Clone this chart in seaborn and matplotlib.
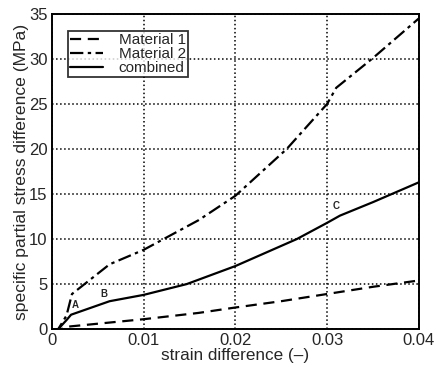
import matplotlib
matplotlib.use("Agg")
import matplotlib.pyplot as plt
import seaborn as sns
import pandas as pd

# data
m1_x = [0, 0.001, 0.002, 0.006, 0.01, 0.016, 0.02, 0.025, 0.03, 0.035, 0.04]
m1_y = [0, 0, 0.3, 0.7, 1.1, 1.8, 2.4, 3.1, 3.9, 4.7, 5.4]
m2_x = [0, 0.0007, 0.0016, 0.0022, 0.0063, 0.01, 0.016, 0.02, 0.0256, 0.03, 0.031, 0.035, 0.04]
m2_y = [0, 0, 1.5, 3.9, 7.2, 8.8, 12.1, 14.8, 20, 25, 26.8, 30.1, 34.5]
c_x = [0, 0.0007, 0.0016, 0.0021, 0.0063, 0.01, 0.0147, 0.02, 0.0267, 0.03, 0.0314, 0.035, 0.04]
c_y = [0, 0, 1.0, 1.6, 3.1, 3.8, 5.0, 7.0, 10, 11.8, 12.6, 14.1, 16.3]
series_names = ["Material 1", "Material 2", "combined"]
x_ticks = [0, 0.01, 0.02, 0.03, 0.04]
x_tick_labels = ["0", "0.01", "0.02", "0.03", "0.04"]
y_ticks = [0, 5, 10, 15, 20, 25, 30, 35]
annot_text = ["A", "B", "C"]
annot_x = [0.0026, 0.0057, 0.031]
annot_y = [2.7, 3.9, 13.7]

sns.set_style("white")
plt.rcParams['font.family'] = ['Liberation Sans', 'DejaVu Sans']

df = pd.concat([
    pd.DataFrame({"x": m1_x, "y": m1_y, "s": series_names[0]}),
    pd.DataFrame({"x": m2_x, "y": m2_y, "s": series_names[1]}),
    pd.DataFrame({"x": c_x, "y": c_y, "s": series_names[2]}),
])

fig = plt.figure(figsize=(4.39, 3.77), dpi=100)
ax = fig.add_axes([0.118, 0.127, 0.836, 0.836])

styles = {series_names[0]: (0, (5, 3)),
          series_names[1]: (0, (6, 2, 1.5, 2)),
          series_names[2]: "-"}
for name in series_names:
    sub = df[df["s"] == name]
    sns.lineplot(data=sub, x="x", y="y", ax=ax, color="black", lw=1.6,
                 linestyle=styles[name], label=name, estimator=None, sort=False)

for t, xx, yy in zip(annot_text, annot_x, annot_y):
    ax.text(xx, yy, t, fontsize=7, fontweight="bold", ha="center", va="center")

ax.set_xlim(0, 0.04)
ax.set_ylim(0, 35)
ax.set_xticks(x_ticks)
ax.set_xticklabels(x_tick_labels)
ax.set_yticks(y_ticks)
ax.tick_params(labelsize=12, length=0, pad=3)
ax.grid(True, linestyle=":", color="black", lw=1.1)
for sp in ax.spines.values():
    sp.set_color("black")
    sp.set_linewidth(1.4)
ax.set_xlabel("strain difference (–)", fontsize=12.3, labelpad=0)
ax.set_ylabel("specific partial stress difference (MPa)", fontsize=12.6, labelpad=0)

leg = ax.legend(loc="upper left", bbox_to_anchor=(0.043, 0.947), frameon=True,
                fancybox=False, edgecolor="black", fontsize=11,
                handlelength=2.2, borderpad=0.15, labelspacing=0.0, handletextpad=1.0,
                borderaxespad=0)
leg.get_frame().set_linewidth(1.3)

fig.savefig("out.png", dpi=100, facecolor="white")
